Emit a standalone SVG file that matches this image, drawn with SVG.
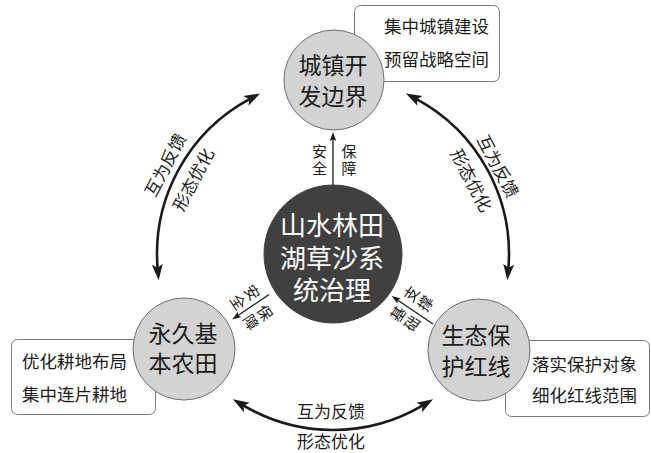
<svg xmlns="http://www.w3.org/2000/svg" width="651" height="453" viewBox="0 0 651 453">
  <defs>
    <marker id="bigHead" viewBox="0 -6 16 12" markerWidth="16" markerHeight="12" refX="5" refY="0" orient="auto-start-reverse" markerUnits="userSpaceOnUse">
      <path d="M0,-5.5 L16,0 L0,5.5 L3.5,0 Z" fill="#1a1a1a"/>
    </marker>
    <marker id="smallHead" viewBox="0 -4 9 8" markerWidth="9" markerHeight="8" refX="2" refY="0" orient="auto" markerUnits="userSpaceOnUse">
      <path d="M0,-3.2 L9,0 L0,3.2 L1.8,0 Z" fill="#1a1a1a"/>
    </marker>
    <style>
      text { font-family: "Liberation Sans", "Noto Sans CJK SC", sans-serif; fill: #1c1c1c; dominant-baseline: central; text-anchor: middle; }
      .box { fill: #ffffff; stroke: #7a7a7a; stroke-width: 1; }
      .node { fill: #d3d3d3; stroke: #6e6e6e; stroke-width: 1; }
      .core { fill: #404040; stroke: #404040; stroke-width: 1; }
      .coretext { fill: #ffffff; font-size: 26px; }
      .nodetext { font-size: 23px; }
      .boxtext { font-size: 17.5px; text-anchor: start; }
      .arc { fill: none; stroke: #1a1a1a; stroke-width: 2.6; marker-start: url(#bigHead); marker-end: url(#bigHead); }
      .thin { fill: none; stroke: #1a1a1a; stroke-width: 1.3; marker-end: url(#smallHead); }
      .lbl { font-size: 17px; }
      .vlbl { font-size: 15px; writing-mode: vertical-rl; letter-spacing: 2px; }
    </style>
  </defs>
  <rect width="651" height="453" fill="#ffffff"/>

  <g id="connectors">
    <path class="arc" d="M250.4,98.6 A176,176 0 0 0 157.7,269.3"/>
    <path class="arc" d="M415.6,98.6 A176,176 0 0 1 508.3,269.3"/>
    <path class="arc" d="M242.4,404.9 A176,176 0 0 0 423.6,404.9"/>
    <path class="thin" d="M333,186 L333,139"/>
    <path class="thin" d="M269,294.5 L238,315.5"/>
    <path class="thin" d="M433,324 L397.5,300"/>
  </g>

  <g id="connector-labels">
    <text class="lbl" transform="translate(166,165.3) rotate(-62)">互为反馈</text>
    <text class="lbl" transform="translate(194,180) rotate(-62)">形态优化</text>
    <text class="lbl" transform="translate(497.2,166.7) rotate(62)">互为反馈</text>
    <text class="lbl" transform="translate(470.7,180.8) rotate(62)">形态优化</text>
    <text class="lbl" x="331" y="412">互为反馈</text>
    <text class="lbl" x="331" y="442">形态优化</text>

    <text class="vlbl" x="318.5" y="161">安全</text>
    <text class="vlbl" x="348" y="161">保障</text>

    <text class="vlbl" transform="translate(243.8,297) rotate(56)">安全</text>
    <text class="vlbl" transform="translate(256.5,317.2) rotate(56)">保障</text>

    <text class="vlbl" transform="translate(418.7,300) rotate(-56)">支撑</text>
    <text class="vlbl" transform="translate(405.3,320) rotate(-56)">基础</text>
  </g>

  <g id="core">
    <circle class="core" cx="333" cy="254" r="69"/>
    <text class="coretext" x="332" y="227"><tspan x="332" y="226">山水林田</tspan><tspan x="332" y="259">湖草沙系</tspan><tspan x="332" y="291">统治理</tspan></text>
  </g>

  <g id="urban-boundary">
    <rect class="box" x="354.5" y="5.5" width="145" height="76" rx="6"/>
    <circle class="node" cx="334" cy="80" r="50"/>
    <text class="nodetext" x="333" y="66"><tspan x="333" y="66">城镇开</tspan><tspan x="333" y="97">发边界</tspan></text>
    <text class="boxtext" x="384" y="27"><tspan x="384" y="27">集中城镇建设</tspan><tspan x="384" y="60">预留战略空间</tspan></text>
  </g>

  <g id="farmland">
    <rect class="box" x="11.5" y="339.5" width="144" height="75" rx="6"/>
    <circle class="node" cx="184" cy="349" r="51"/>
    <text class="nodetext" x="183" y="334"><tspan x="183" y="334">永久基</tspan><tspan x="183" y="364">本农田</tspan></text>
    <text class="boxtext" x="22" y="362"><tspan x="22" y="362">优化耕地布局</tspan><tspan x="22" y="395">集中连片耕地</tspan></text>
  </g>

  <g id="eco-redline">
    <rect class="box" x="505.5" y="340.5" width="144" height="76" rx="6"/>
    <circle class="node" cx="479" cy="350" r="51"/>
    <text class="nodetext" x="476" y="336"><tspan x="476" y="336">生态保</tspan><tspan x="476" y="367">护红线</tspan></text>
    <text class="boxtext" x="532" y="365"><tspan x="532" y="365">落实保护对象</tspan><tspan x="532" y="396">细化红线范围</tspan></text>
  </g>
</svg>
